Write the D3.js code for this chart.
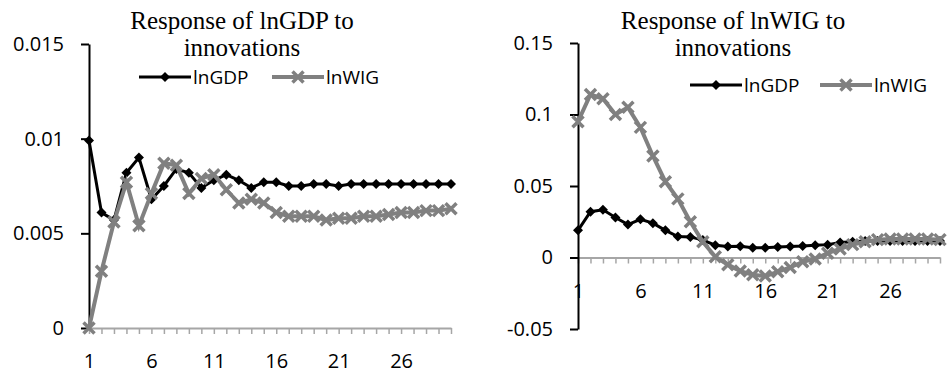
<!DOCTYPE html>
<html>
<head>
<meta charset="utf-8">
<script src="https://cdn.jsdelivr.net/npm/d3@7"></script>
<style>
  body { margin: 0; background: #fff; }
  svg { display: block; }
  .tick text { font-family: "Open Sans", sans-serif; font-size: 20px; fill: #000; }
</style>
</head>
<body>
<div id="chart"></div>
<script>
// periods 1..30
const periods = d3.range(1, 31);
const xTickLabels = ["1", "6", "11", "16", "21", "26"];

// left panel: response of lnGDP
const gdpOnGdp = [0.0099, 0.0061, 0.0057, 0.0082, 0.0090, 0.0068, 0.0075, 0.0084, 0.0082, 0.0074,
  0.0078, 0.0081, 0.0078, 0.0074, 0.0077, 0.0077, 0.0075, 0.0075, 0.0076, 0.0076,
  0.0075, 0.0076, 0.0076, 0.0076, 0.0076, 0.0076, 0.0076, 0.0076, 0.0076, 0.0076];
const gdpOnWig = [0, 0.0030, 0.0056, 0.0077, 0.0054, 0.0071, 0.0087, 0.0086, 0.0071, 0.0079,
  0.0081, 0.0073, 0.0066, 0.0068, 0.0066, 0.0061, 0.0059, 0.0059, 0.0059, 0.0057,
  0.0058, 0.0058, 0.0059, 0.0059, 0.0060, 0.0061, 0.0061, 0.0062, 0.0062, 0.0063];
const leftYTicks = [0, 0.005, 0.01, 0.015];

// right panel: response of lnWIG
const wigOnGdp = [0.019, 0.032, 0.0334, 0.028, 0.023, 0.0267, 0.024, 0.019, 0.0146, 0.0144,
  0.0122, 0.0086, 0.0077, 0.0078, 0.0068, 0.0068, 0.0073, 0.0077, 0.008, 0.0086,
  0.009, 0.0105, 0.011, 0.0115, 0.0115, 0.0115, 0.0115, 0.0115, 0.0115, 0.0115];
const wigOnWig = [0.095, 0.114, 0.111, 0.100, 0.105, 0.091, 0.071, 0.053, 0.041, 0.025,
  0.011, 0.0005, -0.005, -0.0095, -0.012, -0.013, -0.010, -0.007, -0.003, -0.001,
  0.003, 0.006, 0.009, 0.011, 0.0125, 0.013, 0.013, 0.013, 0.013, 0.0125];
const rightYTicks = [-0.05, 0, 0.05, 0.1, 0.15];

const seriesNames = ["lnGDP", "lnWIG"];

const width = 947, height = 374;
const svg = d3.select("#chart").append("svg")
  .attr("width", width)
  .attr("height", height);

const gdpColor = "#000000";
const wigColor = "#808080";

function diamond(g, r) {
  g.append("path")
    .attr("d", `M0,${-r}L${r},0L0,${r}L${-r},0Z`)
    .attr("fill", gdpColor);
}

function cross(g, r) {
  g.append("path")
    .attr("d", `M${-r},${-r}L${r},${r}M${-r},${r}L${r},${-r}`)
    .attr("stroke", wigColor)
    .attr("stroke-width", 3.5)
    .attr("fill", "none");
}

function drawPanel(p) {
  const g = svg.append("g");

  const x = d3.scalePoint().domain(periods).range([p.x0, p.x1]);
  const y = d3.scaleLinear().domain(p.yDomain).range([p.yBottom, p.yTop]);

  // titel, zwei zeilen
  g.append("text")
    .attr("x", p.titleX)
    .attr("y", 29)
    .attr("text-anchor", "middle")
    .style("font-family", "'Liberation Serif', 'Times New Roman', serif")
    .style("font-size", "25px")
    .text(p.title);
  g.append("text")
    .attr("x", p.titleX)
    .attr("y", 56)
    .attr("text-anchor", "middle")
    .style("font-family", "'Liberation Serif', 'Times New Roman', serif")
    .style("font-size", "25px")
    .text("innovations");

  // x-achse (grau) an y=0
  const xAxis = g.append("g")
    .attr("transform", `translate(0,${y(0)})`)
    .call(d3.axisBottom(x)
      .tickSize(6)
      .tickSizeOuter(0)
      .tickPadding(20)
      .tickFormat(d => xTickLabels.includes(String(d)) ? String(d) : ""));
  xAxis.select(".domain").attr("stroke", "#a6a6a6").attr("stroke-width", 2);
  xAxis.selectAll(".tick line").attr("stroke", "#a6a6a6").attr("stroke-width", 1.5);

  // y-achse (schwarz)
  const yAxis = g.append("g")
    .attr("transform", `translate(${p.x0},0)`)
    .call(d3.axisLeft(y)
      .tickValues(p.yTicks)
      .tickSize(8)
      .tickSizeOuter(0)
      .tickPadding(17)
      .tickFormat(d => d === 0 ? "0" : String(+d.toFixed(3))));
  yAxis.select(".domain").attr("stroke", "#000").attr("stroke-width", 2);
  yAxis.selectAll(".tick line").attr("stroke", "#000").attr("stroke-width", 2);

  const line = d3.line()
    .x((d, i) => x(periods[i]))
    .y(d => y(d));

  // lnGDP unten, lnWIG darüber
  g.append("path")
    .datum(p.gdp)
    .attr("d", line)
    .attr("fill", "none")
    .attr("stroke", gdpColor)
    .attr("stroke-width", 3);
  p.gdp.forEach((v, i) => {
    const m = g.append("g").attr("transform", `translate(${x(periods[i])},${y(v)})`);
    diamond(m, 5);
  });

  g.append("path")
    .datum(p.wig)
    .attr("d", line)
    .attr("fill", "none")
    .attr("stroke", wigColor)
    .attr("stroke-width", 4);
  p.wig.forEach((v, i) => {
    const m = g.append("g").attr("transform", `translate(${x(periods[i])},${y(v)})`);
    cross(m, 5.5);
  });

  // legende
  const leg = g.append("g").attr("transform", `translate(0,${p.legendY})`);
  p.legend.forEach((l, i) => {
    const color = i === 0 ? gdpColor : wigColor;
    leg.append("line")
      .attr("x1", l.x).attr("x2", l.x + 52)
      .attr("y1", 0).attr("y2", 0)
      .attr("stroke", color)
      .attr("stroke-width", i === 0 ? 3 : 4);
    const m = leg.append("g").attr("transform", `translate(${l.x + 26},0)`);
    if (i === 0) diamond(m, 5); else cross(m, 5.5);
    leg.append("text")
      .attr("x", l.x + 54)
      .attr("y", 0)
      .attr("dy", "0.35em")
      .style("font-family", "'Open Sans', sans-serif")
      .style("font-size", "19px")
      .text(seriesNames[i]);
  });
}

drawPanel({
  title: "Response of lnGDP to",
  titleX: 242,
  x0: 89, x1: 451,
  yTop: 44, yBottom: 328,
  yDomain: [0, 0.015],
  yTicks: leftYTicks,
  gdp: gdpOnGdp,
  wig: gdpOnWig,
  legendY: 77,
  legend: [{ x: 139 }, { x: 272 }]
});

drawPanel({
  title: "Response of lnWIG to",
  titleX: 733,
  x0: 578, x1: 940,
  yTop: 43, yBottom: 329,
  yDomain: [-0.05, 0.15],
  yTicks: rightYTicks,
  gdp: wigOnGdp,
  wig: wigOnWig,
  legendY: 85,
  legend: [{ x: 690 }, { x: 820 }]
});
</script>
</body>
</html>
